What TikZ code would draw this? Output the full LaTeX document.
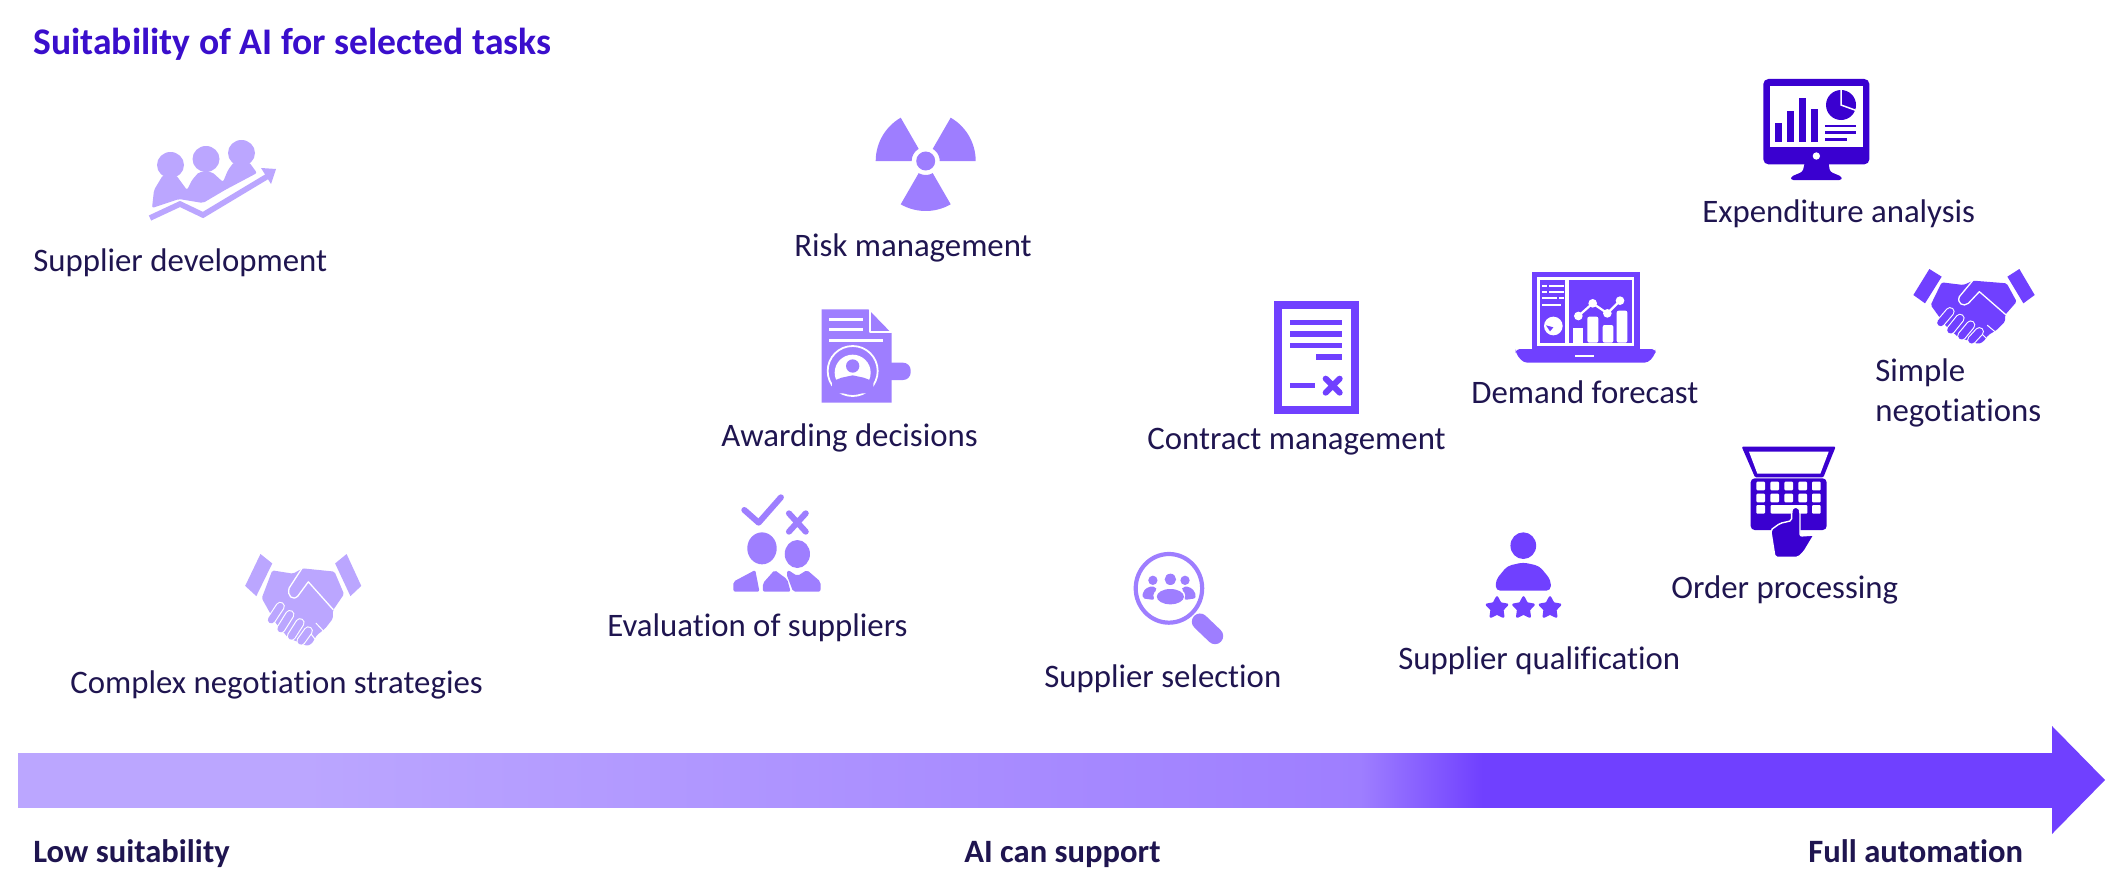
\documentclass[tikz,border=0pt]{standalone}
\usepackage{fontspec}
\setmainfont[RawFeature={-liga}]{Carlito}
\usetikzlibrary{shapes.geometric}
\definecolor{lightv}{HTML}{BBA6FF}
\definecolor{midv}{HTML}{9E7EFF}
\definecolor{strongv}{HTML}{7040FF}
\definecolor{darkv}{HTML}{3A00D0}
\definecolor{inkv}{HTML}{1F1550}
\definecolor{titlev}{HTML}{3A0ECC}
\pgfdeclarehorizontalshading{barshade}{100bp}{%
 color(0bp)=(lightv); color(25bp)=(lightv); color(32bp)=(lightv);
 color(58bp)=(midv); color(61bp)=(strongv); color(100bp)=(strongv)}
\tikzset{
  lbl/.style={anchor=base west,inner sep=0pt,text=inkv,font=\fontsize{16.4}{19.6}\selectfont},
  axislbl/.style={lbl,font=\fontsize{16.3}{19}\selectfont\bfseries},
  z3/.style={x=0.16667pt,y=-0.16667pt}
}
\newcommand{\sector}[6]{% cx cy r0 r1 a0 a1
  plot[domain=#5:#6,samples=16] ({#1+#4*cos(\x)},{#2-#4*sin(\x)}) --
  plot[domain=#6:#5,samples=8] ({#1+#3*cos(\x)},{#2-#3*sin(\x)}) -- cycle}
\newcommand{\handshake}[1]{%
  \fill[#1] (688,57)--(725,80)--(675,160)--(640,135)--cycle;
  \fill[#1] (958,57)--(1004,135)--(970,160)--(922,80)--cycle;
  \fill[#1,rounded corners=0.8pt] (725,97)--(790,105)--(820,92)--(920,100)--(950,155)--(915,195)--(915,215)--(890,240)--(865,255)--(850,275)--(835,282)--(775,262)--(735,225)--(692,165)--cycle;
  \draw[white,line width=0.65pt,line join=round,line cap=round] (818,92)--(778,140)..controls (770,160) and (790,172) .. (805,160)--(838,125)--(916,193);
  \draw[white,line width=0.5pt,line cap=round] (862,226)--(885,245) (842,248)--(862,268);
  \foreach \ax/\ay/\bx/\by in {722/218/750/185,752/240/780/205,785/258/812/225,815/270/838/245}{
    \draw[white,line width=4.6pt,line cap=round] (\ax,\ay)--(\bx,\by);
    \draw[#1,line width=3.5pt,line cap=round] (\ax,\ay)--(\bx,\by);
  }
}
\begin{document}
\begin{tikzpicture}[x=0.5pt,y=-0.5pt]
\useasboundingbox (0,0) rectangle (2120,872);

% ---- gradient arrow
\shade[shading=barshade] (18,753) rectangle (2052,807);
\fill[strongv] (2052,726)--(2105,780)--(2052,834)--cycle;

% ---- texts
\node[anchor=base west,inner sep=0pt,text=titlev,font=\fontsize{18.8}{23}\selectfont\bfseries] (title) at (33,55) {Suitability of AI for selected tasks};
\node[lbl] (t1) at (33,271) {Supplier development};
\node[lbl] (t2) at (794,256) {Risk management};
\node[lbl] (t3) at (1702,222) {Expenditure analysis};
\node[lbl,align=left,anchor=west] (t4) at (1875,393) {Simple\\negotiations};
\node[lbl] (t5) at (1471,403) {Demand forecast};
\node[lbl] (t6) at (721,446) {Awarding decisions};
\node[lbl] (t7) at (1147,449) {Contract management};
\node[lbl] (t8) at (1671,598) {Order processing};
\node[lbl] (t9) at (607,636) {Evaluation of suppliers};
\node[lbl] (t10) at (1398,669) {Supplier qualification};
\node[lbl] (t11) at (1044,687) {Supplier selection};
\node[lbl] (t12) at (70,693) {Complex negotiation strategies};
\node[axislbl] (a1) at (33,862) {Low suitability};
\node[axislbl] (a2) at (964,862) {AI can support};
\node[axislbl] (a3) at (1808,862) {Full automation};

% ---- supplier development icon
\begin{scope}[lightv]
  \fill (170.5,165) ellipse [x radius=13.5,y radius=13];
  \fill (206,159) ellipse [x radius=13.5,y radius=13];
  \fill (241.5,153) ellipse [x radius=13.5,y radius=13];
  \fill[rounded corners=1pt] (152,208)--(154,190)--(163,175)--(176,175)--(187,190)--(192,180)--(199,172)--(212,172)--(223,182)--(228,170)--(234,162)--(249,162)--(257,173)--(225,190)--(203,203)--(179,199)--cycle;
  \draw[line width=2.8pt,line join=miter] (150,218)--(180,204)--(203,215)--(268,176);
  \fill (276,169)--(261,168)--(271,184)--cycle;
\end{scope}

% ---- radiation icon
\fill[midv] \sector{925.7}{161}{14}{50}{120}{180};
\fill[midv] \sector{925.7}{161}{14}{50}{0}{60};
\fill[midv] \sector{925.7}{161}{14}{50}{240}{300};
\fill[midv] (925.7,161) circle [radius=9.5];

% ---- awarding decisions icon
\begin{scope}[shift={(700,80)},z3,midv]
  \fill[rounded corners=0.1pt] (365,688)--(505,688)--(575,760)--(575,968)--(365,968)--cycle;
  \fill[rounded corners=3.8pt] (510,848) rectangle (632,900);
  \draw[white,line width=1.1pt,line cap=round,line join=round] (510,690)--(510,757)--(573,757);
  \draw[white,line width=1.5pt] (388,717)--(490,717) (388,749)--(490,749) (388,781)--(550,781);
  \draw[white,line width=0.9pt,fill=midv] (458,873) circle [radius=75];
  \fill[white] (458,878) circle [radius=54];
  \fill[midv] (396,904)--(425,893)--(458,886)--(491,893)--(520,904)--(520,940)--(396,940)--cycle;
  \fill[midv] (458,858) circle [radius=20];
\end{scope}

% ---- contract icon
\begin{scope}[shift={(1250,270)},z3,strongv]
  \draw[line width=4pt,fill=white] (82.5,104.5) rectangle (314.5,420);
  \foreach \yy in {158,192,226}{\draw[line width=2.6pt] (120,\yy)--(277,\yy);}
  \draw[line width=2.6pt] (198,261)--(277,261) (120,347)--(195,347);
  \draw[line width=3pt,line cap=round] (227,326)--(269,368) (269,326)--(227,368);
\end{scope}

% ---- demand forecast icon
\begin{scope}[shift={(1250,270)},z3,strongv]
  \fill (845,5) rectangle (1170,240);
  \fill[white] (862,22) rectangle (1152,228);
  \fill (870,30) rectangle (945,220);
  \fill (958,30) rectangle (1145,220);
  \fill[rounded corners=2pt] (797,237)--(1217,237)--(1217,250)--(1195,278)--(820,278)--(797,250)--cycle;
  \draw[white,line width=1.1pt] (975,258)--(1032,258);
  \draw[white,line width=1pt] (876,47)--(890,47) (898,47)--(942,47) (876,65)--(890,65) (898,65)--(942,65) (876,85)--(920,85) (928,85)--(942,85) (876,105)--(932,105);
  \fill[white] (910,168) circle [radius=28];
  \fill (888,166)--(910,172)--(900,184)--cycle;
  \fill[white] (968,175) rectangle (1000,218);
  \fill[white,rounded corners=1pt] (1012,140) rectangle (1045,218);
  \fill[white,rounded corners=1pt] (1058,165) rectangle (1090,218);
  \fill[white,rounded corners=1pt] (1100,122) rectangle (1132,218);
  \draw[strongv,line width=2.4pt] (985,138)--(1028,100)--(1072,130)--(1110,92);
  \draw[white,line width=1.1pt] (985,138)--(1028,100)--(1072,130)--(1110,92);
  \foreach \cx/\cy in {985/138,1028/100,1072/130,1110/92}{\fill[white] (\cx,\cy) circle [radius=13];}
\end{scope}

% ---- expenditure monitor icon
\begin{scope}[shift={(1680,60)},z3,darkv]
  \fill[rounded corners=2.5pt] (250,57) rectangle (568,313);
  \fill[white] (270,77) rectangle (550,262);
  \fill (284,190) rectangle (307,246);
  \fill (320,153) rectangle (343,246);
  \fill (356,114) rectangle (379,246);
  \fill (392,147) rectangle (415,246);
  \fill (483,135) circle [radius=45];
  \draw[white,line width=0.75pt] (483,85)--(483,135)--(530,152);
  \draw[line width=1.2pt] (435,198)--(527,198) (435,218)--(527,218) (435,238)--(500,238);
  \fill[white] (409,288) circle [radius=11];
  \fill[rounded corners=1.2pt] (375,305)--(445,305)--(450,335)--(485,350)--(485,360)--(333,360)--(333,350)--(368,335)--cycle;
\end{scope}

% ---- simple handshake icon
\begin{scope}[shift={(1700,250)},z3]
  \handshake{strongv}
\end{scope}

% ---- complex handshake icon
\begin{scope}[shift={(41,530.7)},x=0.1595pt,y=-0.2045pt]
  \handshake{lightv}
\end{scope}

% ---- order processing icon
\begin{scope}[shift={(1700,250)},z3,darkv]
  \fill[rounded corners=0.6pt] (125,590)--(407,590)--(370,682)--(165,682)--cycle;
  \fill[white] (147,605)--(386,605)--(361,671)--(172,671)--cycle;
  \fill[rounded corners=2pt] (152,685) rectangle (380,840);
  \foreach \kx in {182,224,266,308,349}{\foreach \ky in {708,744}{
    \fill[white,rounded corners=0.5pt] (\kx-13,\ky-13) rectangle (\kx+13,\ky+13);}}
  \fill[white,rounded corners=0.5pt] (169,765) rectangle (195,791);
  \fill[white,rounded corners=0.5pt] (336,765) rectangle (362,791);
  \fill[white,rounded corners=0.5pt] (212,765) rectangle (322,791);
  \draw[white,line width=0.7pt,fill=darkv,rounded corners=1pt] (275,785)--(278,772)--(296,772)--(300,785)--(300,858)--(342,855)--(312,905)--(295,922)--(225,922)--(212,840)--(240,820)--(275,812)--cycle;
\end{scope}

% ---- evaluation icon
\begin{scope}[shift={(220,480)},x=0.2104pt,y=-0.16667pt,midv]
  \draw[line width=3pt,line cap=round,line join=round] (1246,90)--(1280,128)--(1333,52);
  \draw[line width=3pt,line cap=round] (1352,100)--(1392,155) (1392,100)--(1352,155);
  \fill (1288,205) ellipse [x radius=35,y radius=48];
  \fill (1372,222) ellipse [x radius=30,y radius=42];
  \fill[rounded corners=1pt] (1220,335)--(1220,305)--(1272,270)--(1282,335)--cycle;
  \fill[rounded corners=1pt] (1290,335)--(1290,310)--(1318,270)--(1348,298)--(1356,335)--cycle;
  \fill[rounded corners=1pt] (1362,335)--(1346,282)--(1350,270)--(1372,288)--(1395,270)--(1427,305)--(1427,335)--cycle;
\end{scope}

% ---- supplier selection icon
\begin{scope}[shift={(1100,530)},x=0.1786pt,y=-0.16667pt,midv]
  \draw[line width=2.1pt] (193,175) ellipse [x radius=93,y radius=103];
  \draw[line width=8.2pt,line cap=round] (280,275)--(322,318);
  \fill (197,148) ellipse [x radius=16,y radius=17];
  \fill (148,151) ellipse [x radius=13,y radius=14];
  \fill (238,151) ellipse [x radius=13,y radius=14];
  \fill[rounded corners=1pt] (119,205)--(120,185)--(135,170)--(155,170)--(160,180)--(148,190)--(152,210)--cycle;
  \fill[rounded corners=1pt] (268,205)--(266,185)--(250,170)--(232,170)--(228,180)--(240,190)--(236,210)--cycle;
  \fill (197,200) ellipse [x radius=38,y radius=23];
\end{scope}

% ---- supplier qualification icon
\begin{scope}[shift={(1100,530)},x=0.1786pt,y=-0.16667pt,strongv]
  \fill (1185,47) ellipse [x radius=36,y radius=40];
  \fill[rounded corners=2.2pt] (1108,182)--(1108,150)--(1140,108)--(1185,97)--(1230,108)--(1262,150)--(1262,182)--cycle;
\end{scope}
\foreach \sx/\nm in {1497/s1,1523.5/s2,1550/s3}{
  \node[star,star points=5,star point ratio=1.9,fill=strongv,draw=strongv,line width=1.3pt,line join=round,inner sep=0pt,minimum size=10.5pt] (\nm) at (\sx,608) {};
}
\end{tikzpicture}
\end{document}
